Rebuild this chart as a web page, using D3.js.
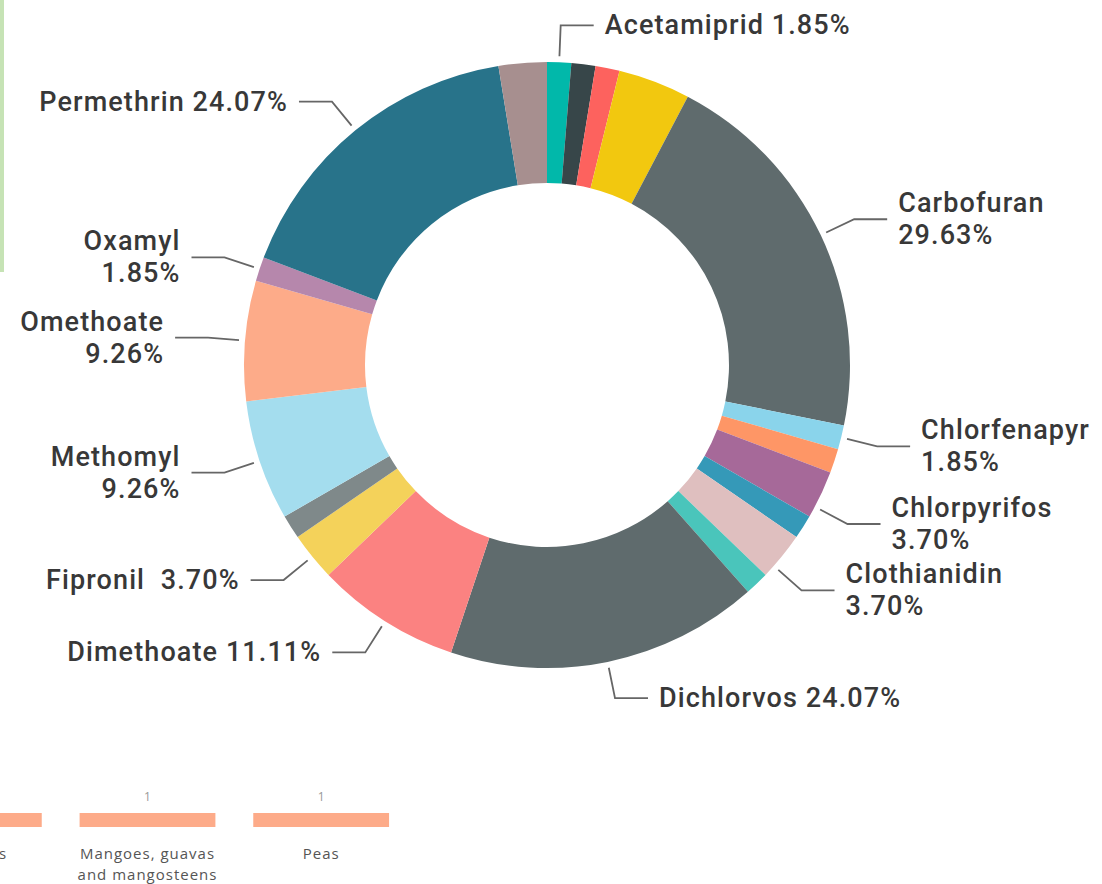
<!DOCTYPE html>
<html>
<head>
<meta charset="utf-8">
<script src="https://cdn.jsdelivr.net/npm/d3@7"></script>
<style>
  html, body { margin: 0; padding: 0; background: #fff; }
  svg { display: block; }
</style>
</head>
<body>
<div id="chart"></div>
<script>
//DATA
const pesticides = [
    "Acetamiprid", "", "", "", "Carbofuran", "Chlorfenapyr", "", "Chlorpyrifos",
    "", "Clothianidin", "", "Dichlorvos", "Dimethoate", "Fipronil", "", "Methomyl",
    "Omethoate", "Oxamyl", "Permethrin", ""
];
const detections = [1, 1, 1, 3, 16, 1, 1, 2, 1, 2, 1, 13, 6, 2, 1, 5, 5, 1, 13, 2];
const shares = [
    "1.85%", null, null, null, "29.63%", "1.85%", null, "3.70%",
    null, "3.70%", null, "24.07%", "11.11%", "3.70%", null, "9.26%",
    "9.26%", "1.85%", "24.07%", null
];

const crops = ["Cherries", "Mangoes, guavas and mangosteens", "Peas"];
const cropCounts = [1, 1, 1];

//COLORS
const PALETTE = [
    "#01B8AA", "#374649", "#FD625E", "#F2C80F", "#5F6B6D",
    "#8AD4EB", "#FE9666", "#A66999", "#3599B8", "#DFBFBF",
    "#4AC5BB", "#5F6B6D", "#FB8281", "#F4D25A", "#7F898A",
    "#A4DDEE", "#FDAB89", "#B687AC", "#28738A", "#A78F8F"
];

//INIT
const width = 1102, height = 884;
const cx = 547, cy = 365;
const outerR = 303, innerR = 182;

const svg = d3.select("#chart")
    .append("svg")
    .attr("width", width)
    .attr("height", height);

// green frame edge at the top left
svg.append("rect")
    .attr("x", 0).attr("y", 0)
    .attr("width", 4).attr("height", 272)
    .attr("fill", "#c6e3b5");

//DONUT
const slices = pesticides.map((name, i) => ({
    name, value: detections[i], share: shares[i], color: PALETTE[i]
}));

const pie = d3.pie()
    .value(d => d.value)
    .sort(null)
    .startAngle(0)
    .endAngle(2 * Math.PI);

const arcs = pie(slices);

const arc = d3.arc().innerRadius(innerR).outerRadius(outerR);
const startArc = d3.arc().innerRadius(outerR + 6).outerRadius(outerR + 6);
const elbowArc = d3.arc().innerRadius(outerR + 37).outerRadius(outerR + 37);

const g = svg.append("g").attr("transform", `translate(${cx},${cy})`);

g.selectAll("path.slice")
    .data(arcs)
    .enter()
    .append("path")
    .attr("class", "slice")
    .attr("d", arc)
    .attr("fill", d => d.data.color);

//LABELS
const twoLine = new Set([
    "Carbofuran", "Chlorfenapyr", "Chlorpyrifos", "Clothianidin",
    "Methomyl", "Omethoate", "Oxamyl"
]);
// small angle nudges (degrees) where labels were pushed apart
const nudge = { Chlorpyrifos: 2.5, Clothianidin: 2.3 };

const labelled = arcs.filter(d => d.data.share);

const runLen = 33, gap = 11, lineH = 32;

labelled.forEach(d => {
    const name = d.data.name;
    const mid = (d.startAngle + d.endAngle) / 2 + (nudge[name] || 0) * Math.PI / 180;
    const ray = { startAngle: mid, endAngle: mid };
    const right = mid < Math.PI;
    const p0 = startArc.centroid(ray);
    const p1 = elbowArc.centroid(ray);
    const p2 = [p1[0] + (right ? runLen : -runLen), p1[1]];

    g.append("polyline")
        .attr("points", [p0, p1, p2].map(p => p.join(",")).join(" "))
        .attr("fill", "none")
        .attr("stroke", "#666")
        .attr("stroke-width", 1.8);

    const lines = twoLine.has(name)
        ? [name, d.data.share]
        : [name + (name === "Fipronil" ? "  " : " ") + d.data.share];

    const tx = p2[0] + (right ? gap : -gap);
    const text = g.append("text")
        .attr("x", tx)
        .attr("y", p2[1] + 2 - (lines.length - 1) * lineH / 2)
        .attr("text-anchor", right ? "start" : "end")
        .attr("dominant-baseline", "middle")
        .attr("font-family", "Roboto, sans-serif")
        .attr("font-size", "27px")
        .attr("font-weight", 500)
        .attr("letter-spacing", "1.1px")
        .attr("fill", "#383838")
        .style("white-space", "pre");

    lines.forEach((t, i) => {
        text.append("tspan")
            .attr("x", tx)
            .attr("dy", i === 0 ? 0 : lineH)
            .text(t);
    });
});

//BARS (cropped visual below)
const x = d3.scaleBand()
    .domain(crops)
    .range([-113, 408])
    .paddingInner(0.218)
    .paddingOuter(0.109);

const y = d3.scaleLinear().domain([0, 1]).range([827, 813]);

const bars = svg.append("g");

bars.selectAll("rect")
    .data(crops)
    .enter()
    .append("rect")
    .attr("x", d => x(d))
    .attr("y", (d, i) => y(cropCounts[i]))
    .attr("width", x.bandwidth())
    .attr("height", (d, i) => y(0) - y(cropCounts[i]))
    .attr("fill", "#FDAB89");

bars.selectAll("text.value")
    .data(crops)
    .enter()
    .append("text")
    .attr("class", "value")
    .attr("x", d => x(d) + x.bandwidth() / 2)
    .attr("y", (d, i) => y(cropCounts[i]) - 15)
    .attr("text-anchor", "middle")
    .attr("dominant-baseline", "middle")
    .attr("font-family", "'Open Sans', sans-serif")
    .attr("font-size", "12px")
    .attr("fill", "#999")
    .text((d, i) => cropCounts[i]);

function wrap(text, maxW) {
    text.each(function () {
        const t = d3.select(this);
        const words = t.text().split(/\s+/);
        const xPos = t.attr("x");
        t.text(null);
        let line = [];
        let tspan = t.append("tspan").attr("x", xPos).attr("dy", 0);
        words.forEach(w => {
            line.push(w);
            tspan.text(line.join(" "));
            if (tspan.node().getComputedTextLength() > maxW && line.length > 1) {
                line.pop();
                tspan.text(line.join(" "));
                line = [w];
                tspan = t.append("tspan").attr("x", xPos).attr("dy", 21).text(w);
            }
        });
    });
}

bars.selectAll("text.cat")
    .data(crops)
    .enter()
    .append("text")
    .attr("class", "cat")
    .attr("x", d => x(d) + x.bandwidth() / 2)
    .attr("y", 855)
    .attr("text-anchor", "middle")
    .attr("dominant-baseline", "middle")
    .attr("font-family", "'Open Sans', sans-serif")
    .attr("font-size", "15px")
    .attr("letter-spacing", "1px")
    .attr("fill", "#555")
    .text(d => d)
    .call(wrap, 160);
</script>
</body>
</html>
